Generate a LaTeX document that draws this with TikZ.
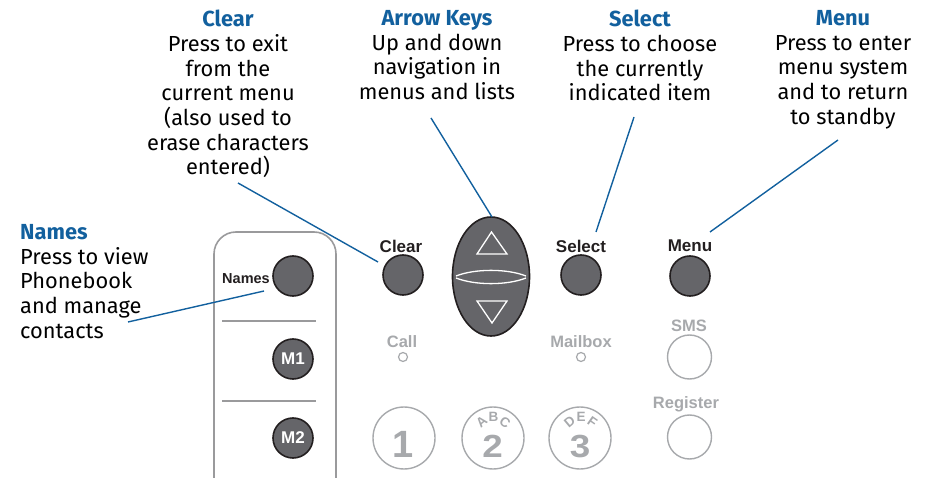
\documentclass[tikz,border=0pt]{standalone}
\usepackage{fontspec}
\usetikzlibrary{shapes.geometric}
\setmainfont{Fira Sans}
\newfontfamily\keyfont{Liberation Sans}
\definecolor{callblue}{HTML}{12609E}
\definecolor{keyfill}{HTML}{656569}
\definecolor{keyline}{HTML}{231F20}
\definecolor{lightgray}{HTML}{A7A9AC}
\definecolor{panelgray}{HTML}{9A9A9C}
\begin{document}
\begin{tikzpicture}[x=1pt,y=-1pt,
  callout/.style={align=center,anchor=north,inner sep=0pt,font=\fontsize{21.8}{24.7}\selectfont},
  darkkey/.style={circle,draw=keyline,line width=1.6pt,fill=keyfill,minimum size=40pt,inner sep=0pt,text=white,font=\keyfont\bfseries\fontsize{17}{17}\selectfont},
  keylabel/.style={inner sep=0pt,font=\keyfont\bfseries\fontsize{17}{17}\selectfont,text=keyline},
  greylabel/.style={inner sep=0pt,font=\keyfont\bfseries\fontsize{16.5}{16.5}\selectfont,text=lightgray},
  greykey/.style={circle,draw=lightgray,line width=1.4pt,minimum size=44pt,inner sep=0pt},
  numkey/.style={circle,draw=lightgray,line width=1.4pt,minimum size=62pt,inner sep=0pt},
  digit/.style={inner sep=0pt,anchor=base,text height=27pt,text depth=0pt,text=lightgray,font=\keyfont\bfseries\fontsize{38}{38}\selectfont},
  digitb/.style={inner sep=0pt,anchor=base,text height=23pt,text depth=0pt,text=lightgray,xscale=1.15,font=\keyfont\bfseries\fontsize{32}{32}\selectfont},
  small/.style={inner sep=-1.2pt,text height=9.5pt,text depth=0pt,text=lightgray,font=\keyfont\bfseries\fontsize{13.5}{13.5}\selectfont},
  led/.style={circle,draw=lightgray,line width=1.2pt,minimum size=9pt,inner sep=0pt},
  lead/.style={draw=callblue,line width=1.4pt}]
\useasboundingbox (0,0) rectangle (935,478);

% callout texts
\node[callout] (tClear) at (228,10) {\textcolor{callblue}{\bfseries Clear}\\Press to exit\\from the\\current menu\\(also used to\\erase characters\\entered)};
\node[callout] (tArrow) at (437,10) {\textcolor{callblue}{\bfseries Arrow Keys}\\Up and down\\navigation in\\menus and lists};
\node[callout] (tSelect) at (640,10) {\textcolor{callblue}{\bfseries Select}\\Press to choose\\the currently\\indicated item};
\node[callout] (tMenu) at (843,10) {\textcolor{callblue}{\bfseries Menu}\\Press to enter\\menu system\\and to return\\to standby};
\node[callout,align=left,anchor=north west] (tNames) at (20,224) {\textcolor{callblue}{\bfseries Names}\\Press to view\\Phonebook\\and manage\\contacts};

% side panel
\draw[panelgray,line width=1.6pt] (214,480) -- (214,254) arc[start angle=180,end angle=270,radius=22] -- (314,232) arc[start angle=270,end angle=360,radius=22] -- (336,480);
\draw[panelgray,line width=1.6pt] (222,321) -- (316,321);
\draw[panelgray,line width=1.6pt] (222,401) -- (316,401);
\node[darkkey] (kNames) at (293,276) {};
\node[inner sep=0pt,anchor=east,font=\keyfont\bfseries\fontsize{14.5}{14.5}\selectfont,text=keyline] (lNames) at (270,279) {Names};
\node[darkkey] (kM1) at (293,359) {M1};
\node[darkkey] (kM2) at (293,438) {M2};

% top row keys
\node[darkkey] (kClear) at (403,275) {};
\node[keylabel] (lClear) at (401,246) {Clear};
\node[darkkey] (kSelect) at (581,275) {};
\node[keylabel] (lSelect) at (581,246) {Select};
\node[darkkey] (kMenu) at (690,276) {};
\node[keylabel] (lMenu) at (690,246) {Menu};

% arrow key
\node[ellipse,draw=keyline,line width=1.6pt,fill=keyfill,minimum width=77pt,minimum height=119pt,inner sep=0pt] (kArrow) at (491,276.5) {};
\draw[white,line width=1.3pt,line join=miter] (491.5,232) -- (507,254) -- (477,254) -- cycle;
\draw[white,line width=1.3pt,line join=miter] (477,301) -- (507,301) -- (492,323) -- cycle;
\draw[white,line width=1.3pt] (456,276) .. controls (475,268.5) and (507,268.5) .. (526,276);
\draw[white,line width=1.3pt] (456,278) .. controls (475,285.5) and (507,285.5) .. (526,278);

% indicators
\node[greylabel] (lCall) at (402,342) {Call};
\node[led] (ledCall) at (403,357) {};
\node[greylabel] (lMail) at (581,342) {Mailbox};
\node[led] (ledMail) at (581,357) {};
\node[greylabel] (lSMS) at (689,326) {SMS};
\node[greykey] (kSMS) at (689.5,357) {};
\node[greylabel] (lReg) at (686,404) {Register};
\node[greykey] (kReg) at (689.5,437) {};

% number keys
\node[numkey] (k1) at (404,438) {};
\node[digit] (d1) at (403,457) {1};
\node[numkey] (k2) at (493,438) {};
\node[digitb] (d2) at (492.5,457.5) {2};
\node[small,rotate=40] (a2) at (481.5,421.5) {A};
\node[small] (b2) at (493.5,417) {B};
\node[small,rotate=-35] (c2) at (505,422) {C};
\node[numkey] (k3) at (580,438) {};
\node[digitb] (d3) at (580,457.5) {3};
\node[small,rotate=40] (a3) at (569.5,421.5) {D};
\node[small] (b3) at (581,417) {E};
\node[small,rotate=-35] (c3) at (592.5,422) {F};

% leader lines
\coordinate (sNames) at (128,322);
\coordinate (eNames) at (264,291);
\coordinate (sClear) at (238,183);
\coordinate (eClear) at (378,262);
\coordinate (sArrow) at (431,118);
\coordinate (eArrow) at (492,217);
\coordinate (sSelect) at (634,117);
\coordinate (eSelect) at (596,232);
\coordinate (sMenu) at (838,140);
\coordinate (eMenu) at (710,232);
\draw[lead] (sNames) -- (eNames);
\draw[lead] (sClear) -- (eClear);
\draw[lead] (sArrow) -- (eArrow);
\draw[lead] (sSelect) -- (eSelect);
\draw[lead] (sMenu) -- (eMenu);
\end{tikzpicture}
\end{document}
